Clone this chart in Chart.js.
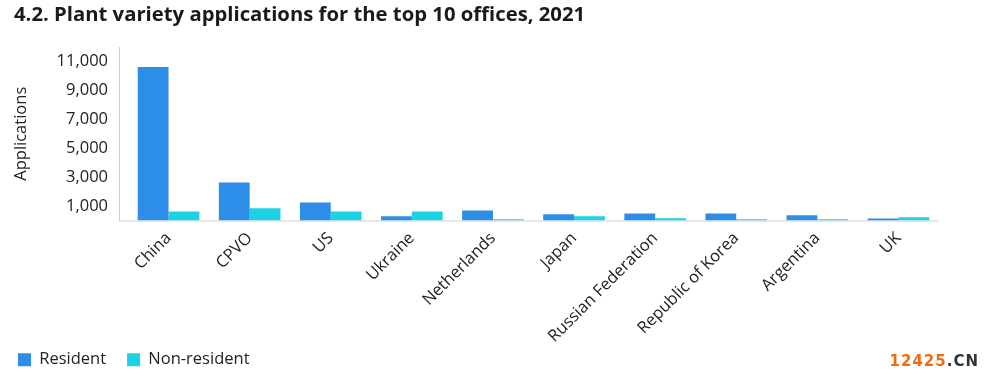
<!DOCTYPE html>
<html>
<head>
<meta charset="utf-8">
<script src="https://cdn.jsdelivr.net/npm/chart.js@4.4.0/dist/chart.umd.min.js"></script>
<style>
  body { margin: 0; background: #fff; }
  #wrap { position: relative; width: 992px; height: 385px; }
  #title {
    position: absolute; left: 14px; top: -1px;
    font-family: "Open Sans", sans-serif; font-weight: 700; font-size: 20.3px;
    color: #1a1a1a; white-space: nowrap;
  }
  #mark {
    position: absolute; right: 13px; top: 352px;
    font-family: "DejaVu Sans", sans-serif; font-weight: 700; font-size: 15px;
    letter-spacing: 1px;
  }
  #mark .n { color: #f26a10; }
  #mark .c { color: #333; }
  canvas { position: absolute; left: 0; top: 0; }
</style>
</head>
<body>
<div id="wrap">
  <canvas id="chart" width="992" height="385"></canvas>
  <div id="title">4.2. Plant variety applications for the top 10 offices, 2021</div>
  <div id="mark"><span class="n">12425</span><span class="c">.CN</span></div>
</div>
<script>
const offices = ['China', 'CPVO', 'US', 'Ukraine', 'Netherlands', 'Japan',
  'Russian Federation', 'Republic of Korea', 'Argentina', 'UK'];
const resident = [10620, 2620, 1240, 300, 700, 440, 480, 480, 370, 140];
const nonResident = [620, 850, 620, 620, 90, 300, 150, 80, 80, 230];
const yTicks = [1000, 3000, 5000, 7000, 9000, 11000];

const font = { family: '"Open Sans", sans-serif', size: 16.5 };

// axis frame sits a few px left of where the categories begin
const axisFrame = {
  id: 'axisFrame',
  beforeDatasetsDraw(chart) {
    const { ctx, chartArea: a } = chart;
    const x0 = a.left - 9;
    ctx.save();
    ctx.strokeStyle = '#cfcfcf';
    ctx.lineWidth = 1;
    ctx.beginPath();
    ctx.moveTo(x0 + 0.5, a.top);
    ctx.lineTo(x0 + 0.5, a.bottom + 0.5);
    ctx.lineTo(a.right, a.bottom + 0.5);
    ctx.stroke();
    ctx.restore();
  }
};

new Chart(document.getElementById('chart'), {
  type: 'bar',
  data: {
    labels: offices,
    datasets: [
      { label: 'Resident', data: resident, backgroundColor: '#2d8ee8' },
      { label: 'Non-resident', data: nonResident, backgroundColor: '#1cd2e4' }
    ]
  },
  plugins: [axisFrame],
  options: {
    responsive: false,
    animation: false,
    layout: { padding: { top: 47, right: 53, left: -3, bottom: 7 } },
    datasets: { bar: { categoryPercentage: 0.76, barPercentage: 1 } },
    plugins: {
      legend: {
        position: 'bottom', align: 'start',
        labels: { boxWidth: 13, boxHeight: 13, color: '#222', font: font, padding: 21 }
      },
      tooltip: { enabled: false }
    },
    scales: {
      x: {
        grid: { display: false },
        border: { display: false },
        afterFit: axis => {
          axis.height = 110;
          // long rotated labels run a little past the axis box; don't clip them
          axis._computeLabelArea = () => undefined;
        },
        ticks: { color: '#222', font: font, maxRotation: 45, minRotation: 45, padding: 0 }
      },
      y: {
        min: 0, max: 12000,
        grid: { display: false },
        border: { display: false },
        afterFit: axis => { axis.width = 131; },
        afterBuildTicks: axis => { axis.ticks = yTicks.map(v => ({ value: v })); },
        ticks: {
          color: '#222', font: font, padding: 12,
          callback: v => v.toLocaleString('en-US')
        },
        title: { display: true, text: 'Applications', color: '#222', font: font, padding: 14 }
      }
    }
  }
});
</script>
</body>
</html>
